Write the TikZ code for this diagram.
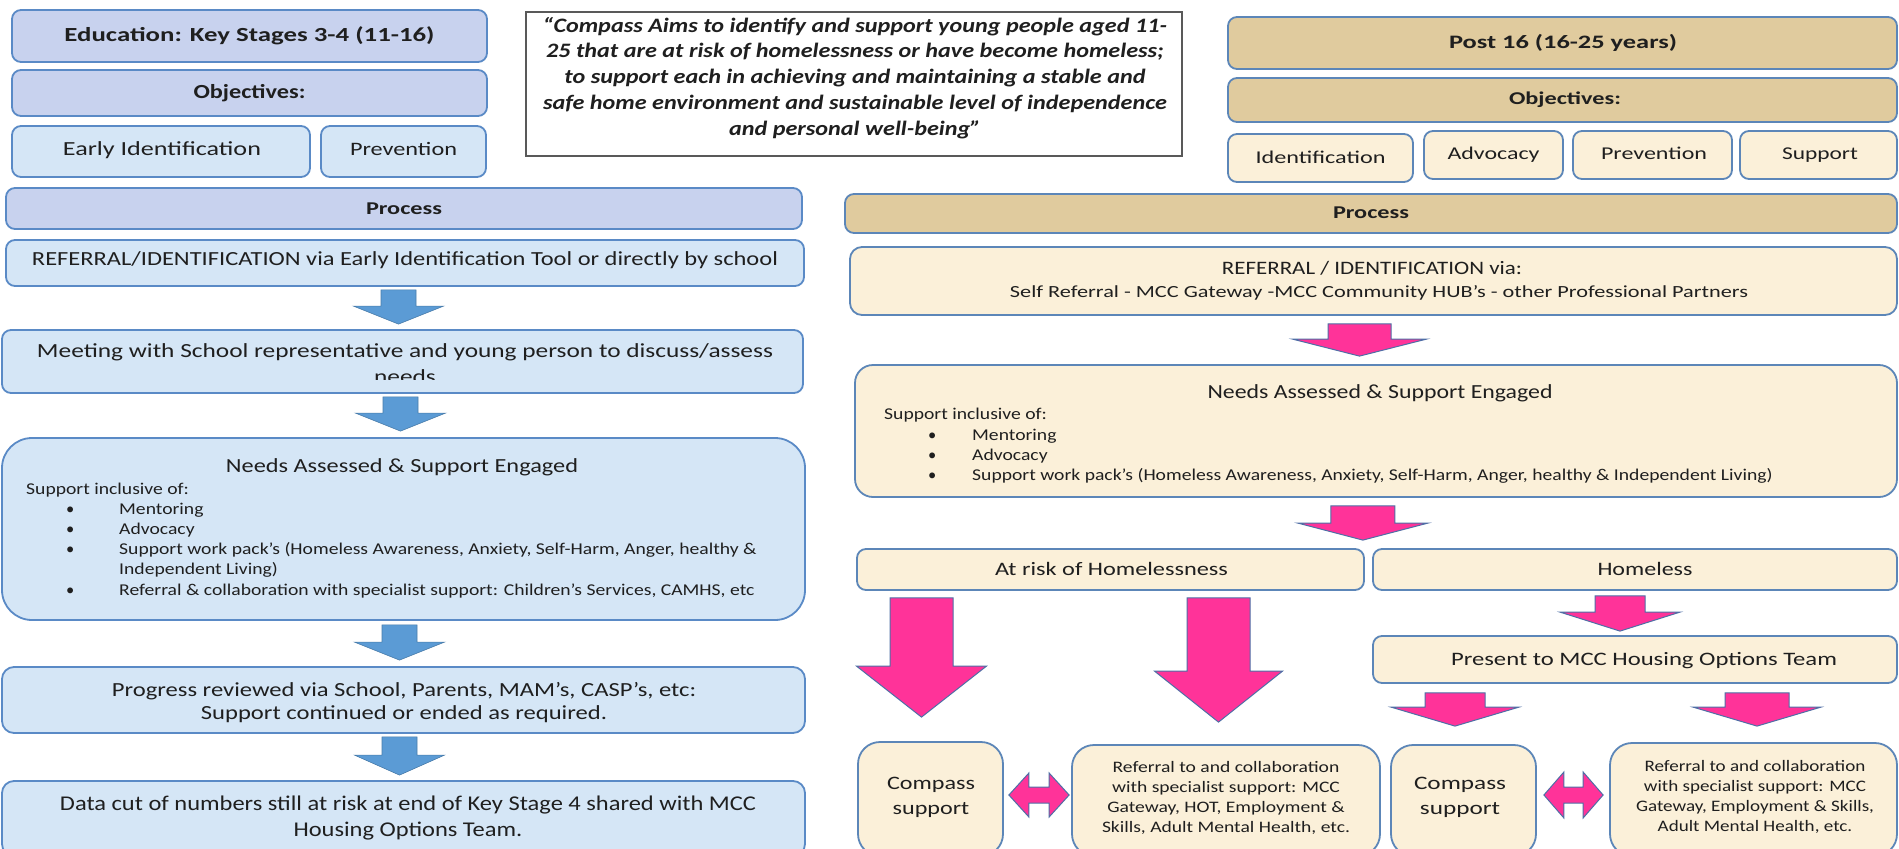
\documentclass[tikz,border=0pt]{standalone}
\usepackage{fontspec}
\setmainfont{Carlito}
\usetikzlibrary{calc}
\definecolor{lhead}{HTML}{C8D2EE}
\definecolor{lbody}{HTML}{D5E6F6}
\definecolor{lborder}{HTML}{5A8AC6}
\definecolor{rhead}{HTML}{E0CB9E}
\definecolor{rbody}{HTML}{FBF0D9}
\definecolor{rborder}{HTML}{5C86B8}
\definecolor{barrow}{HTML}{5B9BD5}
\definecolor{parrow}{HTML}{FF3399}
\definecolor{pedge}{HTML}{4E6FA6}
\definecolor{txt}{HTML}{1F1F1F}
\newcommand\fs[2]{\fontsize{#1}{#2}\selectfont}
% text block resized horizontally to a given width
\newcommand\tx[2]{\resizebox{#1pt}{\height}{\begin{tabular}{@{}c@{}}#2\end{tabular}}}
\newcommand\hs[1]{\scalebox{1.19}[1]{#1}}
% vertical block arrow: style, from (gives top y), to (gives x and tip y), shaft half, head half, head length
\newcommand\varrow[6]{%
  \path[#1] let \p1=(#2), \p2=(#3) in
    (\x2-#4pt,\y1) -- (\x2+#4pt,\y1) -- (\x2+#4pt,\y2+#6pt) -- (\x2+#5pt,\y2+#6pt)
    -- (\x2,\y2) -- (\x2-#5pt,\y2+#6pt) -- (\x2-#4pt,\y2+#6pt) -- cycle;}
% horizontal double arrow: style, left, right, shaft half, head half, head length
\newcommand\harrow[6]{%
  \path[#1] let \p1=(#2), \p2=(#3) in
    (\x1,\y1) -- (\x1+#6pt,\y1+#5pt) -- (\x1+#6pt,\y1+#4pt) -- (\x2-#6pt,\y1+#4pt)
    -- (\x2-#6pt,\y1+#5pt) -- (\x2,\y1) -- (\x2-#6pt,\y1-#5pt) -- (\x2-#6pt,\y1-#4pt)
    -- (\x1+#6pt,\y1-#4pt) -- (\x1+#6pt,\y1-#5pt) -- cycle;}
\begin{document}
\begin{tikzpicture}[x=1pt,y=-1pt,
  box/.style={draw, line width=1.8pt, rounded corners=9pt, inner sep=0pt},
  lh/.style={box, draw=lborder, fill=lhead},
  lb/.style={box, draw=lborder, fill=lbody},
  rh/.style={box, draw=rborder, fill=rhead},
  rb/.style={box, draw=rborder, fill=rbody},
  sz/.style 2 args={minimum width=#1pt, minimum height=#2pt},
  t/.style={inner sep=0pt, text=txt},
  li/.style={inner sep=0pt, text=txt, anchor=base west, font=\fs{16.5}{20}},
  bluearr/.style={fill=barrow, draw=barrow!80!black, line width=0.6pt},
  pinkarr/.style={fill=parrow, draw=pedge, line width=1pt},
  quote/.style={draw=black!65, line width=1.3pt, fill=white, inner sep=0pt}]
\useasboundingbox (0,0) rectangle (1899,849);
\fill[white] (0,0) rectangle (1899,849);

% ---------------- left column ----------------
\node[lh, sz={475}{52}] (ltitle) at (249.5,36) {};
\node[t, font=\fs{20}{24}\bfseries] (ltitlet) at (249.5,37) {\tx{370}{Education: Key Stages 3-4 (11-16)}};
\node[lh, sz={475}{46}] (lobj) at (249.5,93) {};
\node[t, font=\fs{20}{24}\bfseries] (lobjt) at (249.5,94) {\tx{112}{Objectives:}};
\node[lb, sz={298}{51}] (learly) at (161,151.5) {};
\node[t, font=\fs{20}{24}] (learlyt) at (162,151) {\tx{198}{Early Identification}};
\node[lb, sz={165}{51}] (lprev) at (403.5,151.5) {};
\node[t, font=\fs{19}{23}] (lprevt) at (403.5,151) {\tx{107}{Prevention}};
\node[lh, sz={796}{41}] (lproc) at (404,208.5) {};
\node[t, font=\fs{18}{22}\bfseries] (lproct) at (404,210) {\tx{76}{Process}};
\node[lb, sz={798}{46}] (lref) at (405,263) {};
\node[t, font=\fs{20}{24}] (lreft) at (405,261) {\tx{746}{REFERRAL/IDENTIFICATION via Early Identification Tool or directly by school}};
\node[lb, sz={801}{63}] (lmeet) at (402.5,361.5) {};
\begin{scope}
\clip (lmeet.north west) rectangle ($(lmeet.south east)+(0,-14)$);
\node[t, font=\fs{20}{26}] (lmeett) at (405,365) {\tx{736}{Meeting with School representative and young person to discuss/assess\\needs}};
\end{scope}
\node[lb, sz={803}{182}, rounded corners=30pt] (lneeds) at (403.5,529) {};
\node[t, font=\fs{20}{24}] (lneedst) at (402,468) {\tx{352}{Needs Assessed \& Support Engaged}};
\node[li] (ll0) at (26,494) {\hs{Support inclusive of:}};
\node[li] (ll1) at (66,514) {\makebox[53pt][l]{\textbullet}\hs{Mentoring}};
\node[li] (ll2) at (66,534) {\makebox[53pt][l]{\textbullet}\hs{Advocacy}};
\node[li] (ll3) at (66,554) {\makebox[53pt][l]{\textbullet}\hs{Support work pack’s (Homeless Awareness, Anxiety, Self-Harm, Anger, healthy \&}};
\node[li] (ll4) at (119,574) {\hs{Independent Living)}};
\node[li] (ll5) at (66,595) {\makebox[53pt][l]{\textbullet}\hs{Referral \& collaboration with specialist support: Children’s Services, CAMHS, etc}};
\node[lb, sz={803}{66}, rounded corners=12pt] (lprog) at (403.5,700) {};
\node[t, font=\fs{20}{23}] (lprogt) at (404,703.5) {\tx{584}{Progress reviewed via School, Parents, MAM’s, CASP’s, etc:\\Support continued or ended as required.}};
\node[lb, sz={803}{75}, rounded corners=12pt] (ldata) at (403.5,818.5) {};
\node[t, font=\fs{21}{26}] (ldatat) at (408,818) {\tx{696}{Data cut of numbers still at risk at end of Key Stage 4 shared with MCC\\Housing Options Team.}};

\varrow{bluearr}{$(lref.south)+(0,3)$}{$(lmeet.north)+(-4,-5)$}{17.5}{45}{18}
\varrow{bluearr}{$(lmeet.south)+(0,3)$}{$(lneeds.north)+(-3,-6)$}{17.5}{45}{18}
\varrow{bluearr}{$(lneeds.south)+(0,4)$}{$(lprog.north)+(-4,-6)$}{17.5}{45}{18}
\varrow{bluearr}{$(lprog.south)+(0,3)$}{$(ldata.north)+(-4,-5)$}{17.5}{45}{20}

% ---------------- quote ----------------
\node[quote, sz={656}{144}] (quote) at (854,84) {};
\node[t, font=\fs{20.5}{25.7}\bfseries\itshape] (quotet) at (855,78.5)
  {\tx{624}{“Compass Aims to identify and support young people aged 11-\\
   25 that are at risk of homelessness or have become homeless;\\
   to support each in achieving and maintaining a stable and\\
   safe home environment and sustainable level of independence\\
   and personal well-being”}};

% ---------------- right column ----------------
\node[rh, sz={669}{52}] (rtitle) at (1562.5,43) {};
\node[t, font=\fs{19}{23}\bfseries] (rtitlet) at (1563,44) {\tx{228}{Post 16 (16-25 years)}};
\node[rh, sz={669}{44}] (robj) at (1562.5,100) {};
\node[t, font=\fs{18}{22}\bfseries] (robjt) at (1565,100) {\tx{112}{Objectives:}};
\node[rb, sz={185}{48}] (rident) at (1320.5,158) {};
\node[t, font=\fs{18}{22}] (ridentt) at (1320.5,159) {\tx{130}{Identification}};
\node[rb, sz={139}{48}] (radv) at (1493.5,155) {};
\node[t, font=\fs{18}{22}] (radvt) at (1493.5,155) {\tx{92}{Advocacy}};
\node[rb, sz={159}{48}] (rprev) at (1652.5,155) {};
\node[t, font=\fs{18}{22}] (rprevt) at (1654,155) {\tx{106}{Prevention}};
\node[rb, sz={157}{48}] (rsupp) at (1818.5,155) {};
\node[t, font=\fs{18}{22}] (rsuppt) at (1820,155) {\tx{76}{Support}};
\node[rh, sz={1052}{39}] (rproc) at (1371,213.5) {};
\node[t, font=\fs{18}{22}\bfseries] (rproct) at (1371,214) {\tx{76}{Process}};
\node[rb, sz={1047}{68}, rounded corners=12pt] (rref) at (1373.5,281) {};
\node[t, font=\fs{19}{23}] (rref1t) at (1372,270) {\tx{300}{REFERRAL / IDENTIFICATION via:}};
\node[t, font=\fs{17}{21}] (rref2t) at (1379,293) {\tx{738}{Self Referral - MCC Gateway -MCC Community HUB’s - other Professional Partners}};
\node[rb, sz={1042}{132}, rounded corners=18pt] (rneeds) at (1376,431) {};
\node[t, font=\fs{20}{24}] (rneedst) at (1380,394) {\tx{345}{Needs Assessed \& Support Engaged}};
\node[li] (rl0) at (884,419) {\hs{Support inclusive of:}};
\node[li] (rl1) at (928,440) {\makebox[44pt][l]{\textbullet}\hs{Mentoring}};
\node[li] (rl2) at (928,460) {\makebox[44pt][l]{\textbullet}\hs{Advocacy}};
\node[li] (rl3) at (928,480) {\makebox[44pt][l]{\textbullet}\hs{Support work pack’s (Homeless Awareness, Anxiety, Self-Harm, Anger, healthy \& Independent Living)}};
\node[rb, sz={507}{41}] (rrisk) at (1110.5,569.5) {};
\node[t, font=\fs{19}{23}] (rriskt) at (1111.5,571) {\tx{233}{At risk of Homelessness}};
\node[rb, sz={524}{41}] (rhome) at (1635,569.5) {};
\node[t, font=\fs{19}{23}] (rhomet) at (1645,571) {\tx{95}{Homeless}};
\node[rb, sz={524}{47}] (rpres) at (1635,659.5) {};
\node[t, font=\fs{19}{23}] (rprest) at (1644,661) {\tx{386}{Present to MCC Housing Options Team}};
\node[rb, sz={145}{114}, rounded corners=22pt] (rcs1) at (930.5,799) {};
\node[t, font=\fs{19}{25}] (rcs1t) at (931,797) {\tx{88}{Compass\\support}};
\node[rb, sz={308}{111}, rounded corners=22pt] (rref1) at (1226,800.5) {};
\node[t, font=\fs{16}{20}] (rref1x) at (1226,798) {\tx{248}{Referral to and collaboration\\with specialist support: MCC\\Gateway, HOT, Employment \&\\Skills, Adult Mental Health, etc.}};
\node[rb, sz={145}{111}, rounded corners=22pt] (rcs2) at (1463.5,800.5) {};
\node[t, font=\fs{19}{25}] (rcs2t) at (1460,797) {\tx{92}{Compass\\support}};
\node[rb, sz={287}{113}, rounded corners=22pt] (rref2) at (1753.5,799.5) {};
\node[t, font=\fs{16}{20}] (rref2x) at (1755,797) {\tx{238}{Referral to and collaboration\\with specialist support: MCC\\Gateway, Employment \& Skills,\\Adult Mental Health, etc.}};

\varrow{pinkarr}{$(rref.south)+(0,8)$}{$(rneeds.north)+(-16.5,-8)$}{31.5}{67}{17}
\varrow{pinkarr}{$(rneeds.south)+(0,8)$}{$(rrisk.north east)+(-2,-8)$}{32}{65}{17}
\varrow{pinkarr}{$(rrisk.south)+(0,7)$}{$(rcs1.north)+(-9,-24)$}{31.5}{65}{51}
\varrow{pinkarr}{$(rrisk.south)+(0,7)$}{$(rref1.north)+(-7.5,-22)$}{31.5}{64}{51}
\varrow{pinkarr}{$(rhome.south)+(0,5)$}{$(rpres.north)+(-15,-4)$}{25}{60}{19}
\varrow{pinkarr}{$(rpres.south)+(0,9)$}{$(rcs2.north)+(-8.5,-18)$}{30}{64}{19}
\varrow{pinkarr}{$(rpres.south)+(0,9)$}{$(rref2.north)+(3.5,-16)$}{32}{64}{19}
\harrow{pinkarr}{$(rcs1.east)+(5,-4)$}{$(rref1.west)+(-2,-5.5)$}{8}{22}{20}
\harrow{pinkarr}{$(rcs2.east)+(7,-5.5)$}{$(rref2.west)+(-6,-4.5)$}{8}{23}{20}
\end{tikzpicture}
\end{document}
